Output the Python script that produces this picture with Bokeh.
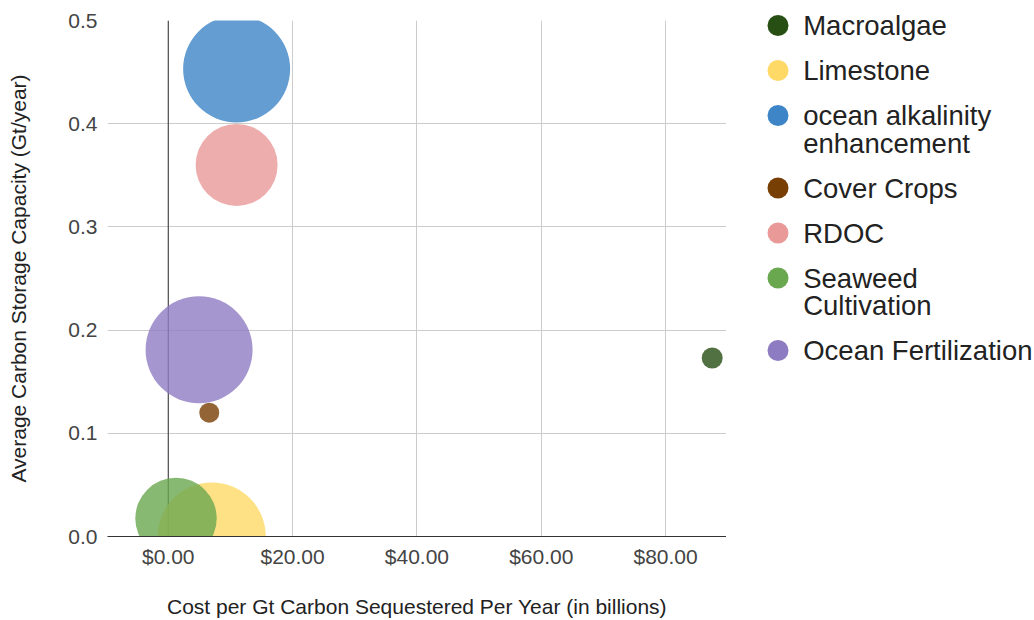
from bokeh.plotting import figure
from bokeh.layouts import row
from bokeh.models import ColumnDataSource, Range1d, FixedTicker, NumeralTickFormatter, Span
from bokeh.core.properties import value
from bokeh.embed import file_html
from bokeh.resources import INLINE

# ---- data ----
methods = ["Macroalgae", "Limestone", "ocean alkalinity enhancement", "Cover Crops",
           "RDOC", "Seaweed Cultivation", "Ocean Fertilization"]
legend_labels = ["Macroalgae", "Limestone", "ocean alkalinity\nenhancement", "Cover Crops",
                 "RDOC", "Seaweed\nCultivation", "Ocean Fertilization"]
cost = [87.5, 7.0, 11.0, 6.6, 11.0, 1.25, 4.96]            # $ billions per Gt / year
capacity = [0.173, 0.0, 0.453, 0.12, 0.36, 0.0175, 0.181]   # Gt / year
bubble_size = [10.5, 54.0, 53.5, 10.0, 41.0, 40.7, 53.5]    # relative bubble size
colors = ["#274e13", "#ffd966", "#3d85c6", "#783f04", "#ea9999", "#6aa84f", "#8e7cc3"]
x_ticks = [0, 20, 40, 60, 80]
y_ticks = [0.0, 0.1, 0.2, 0.3, 0.4, 0.5]

FONT = "Liberation Sans"

p = figure(width=726, height=620,
           x_range=Range1d(-9.77, 89.8), y_range=Range1d(0, 0.5),
           output_backend="svg", toolbar_location=None,
           min_border_left=107, min_border_right=0, min_border_top=20, min_border_bottom=83)
p.frame_align = False
p.outline_line_color = None
p.background_fill_color = "white"
p.border_fill_color = "white"

p.add_layout(Span(location=0, dimension="height", line_color="#333333",
                  line_width=1, level="underlay"))

src = ColumnDataSource(dict(x=cost, y=capacity,
                            d=[2 * s for s in bubble_size], c=colors, name=methods))
p.scatter("x", "y", size="d", fill_color="c", fill_alpha=0.8, line_color=None, source=src)

p.xaxis.ticker = FixedTicker(ticks=x_ticks)
p.xgrid.ticker = FixedTicker(ticks=x_ticks)
p.yaxis.ticker = FixedTicker(ticks=y_ticks)
p.ygrid.ticker = FixedTicker(ticks=y_ticks)
p.xaxis.formatter = NumeralTickFormatter(format="$0.00")
p.yaxis.formatter = NumeralTickFormatter(format="0.0")
p.grid.grid_line_color = "#cccccc"
p.grid.grid_line_width = 1

for ax in (p.xaxis[0], p.yaxis[0]):
    ax.major_tick_line_color = None
    ax.minor_tick_line_color = None
    ax.major_tick_out = 0
    ax.major_tick_in = 0
    ax.minor_tick_out = 0
    ax.minor_tick_in = 0
    ax.major_label_text_font = FONT
    ax.major_label_text_font_size = "21px"
    ax.major_label_text_color = "#444444"
    ax.axis_label_text_font = FONT
    ax.axis_label_text_font_size = "21px"
    ax.axis_label_text_color = "#222222"
    ax.axis_label_text_font_style = "normal"

p.xaxis.axis_label = "Cost per Gt Carbon Sequestered Per Year (in billions)"
p.yaxis.axis_label = "Average Carbon Storage Capacity (Gt/year)"
p.yaxis.axis_line_color = None
p.xaxis.axis_line_color = "#333333"
p.xaxis.major_label_standoff = 8
p.yaxis.major_label_standoff = 10
p.xaxis.axis_label_standoff = 24
p.yaxis.axis_label_standoff = 35

# ---- legend panel ----
lg = figure(width=308, height=620, x_range=Range1d(0, 308), y_range=Range1d(620, 0),
            output_backend="svg", toolbar_location=None,
            x_axis_location=None, y_axis_location=None, min_border=0)
lg.frame_align = False
lg.grid.visible = False
lg.outline_line_color = None
lg.background_fill_color = "white"
lg.border_fill_color = "white"

LEG_Y0 = 25.0
PITCH = 45.0
LINE = 27.5
mk_x, mk_y, tx, ty, tt = [], [], [], [], []
y = LEG_Y0
for lab in legend_labels:
    parts = lab.split("\n")
    mk_x.append(51.5)
    mk_y.append(y)
    for k, part in enumerate(parts):
        tx.append(76.7)
        ty.append(y + k * LINE)
        tt.append(part)
    y += PITCH + LINE * (len(parts) - 1)

lg.scatter(x=mk_x, y=mk_y, size=21, fill_color=colors, line_color=None)
lg.text(x=tx, y=ty, text=tt, text_font=value(FONT), text_font_size="27.5px",
        text_baseline="middle", text_align="left", text_color="#222222")

layout = row(p, lg)
open("out.html", "w").write(file_html(layout, INLINE))
